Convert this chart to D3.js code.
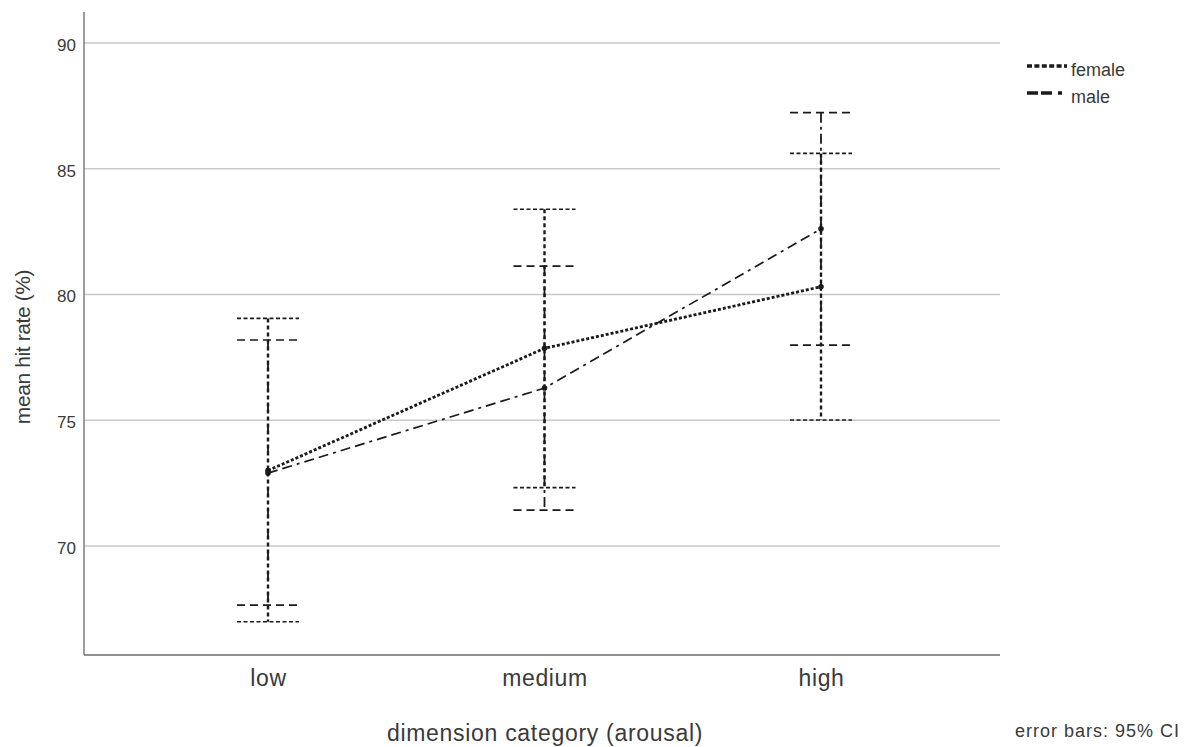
<!DOCTYPE html>
<html>
<head>
<meta charset="utf-8">
<script src="https://cdn.jsdelivr.net/npm/d3@7"></script>
<style>
  html, body { margin: 0; padding: 0; background: #fff; }
  svg { display: block; }
  text { font-family: "Liberation Sans", Arial, sans-serif; fill: #3a3a3a; }
</style>
</head>
<body>
<svg id="chart" width="1188" height="747"></svg>
<script>
// Mean hit rate by arousal category, split by gender, with 95% CI
const categories = ["low", "medium", "high"];
const yTicks = [70, 75, 80, 85, 90];

const femaleMean = [73.0, 77.86, 80.31];
const femaleLow  = [66.99, 72.32, 75.01];
const femaleHigh = [79.05, 83.39, 85.61];

const maleMean = [72.9, 76.28, 82.61];
const maleLow  = [67.65, 71.43, 77.99];
const maleHigh = [78.19, 81.13, 87.23];

const seriesNames = ["female", "male"];

const svg = d3.select("#chart");

const plotLeft = 84, plotRight = 1000, plotTop = 12, plotBottom = 655;

const x = d3.scalePoint()
  .domain(categories)
  .range([plotLeft + 184, plotRight - 179]);

const y = d3.scaleLinear()
  .domain([70, 90])
  .range([546, 43]);

// horizontal grid lines
svg.append("g")
  .selectAll("line")
  .data(yTicks)
  .join("line")
  .attr("x1", plotLeft).attr("x2", plotRight)
  .attr("y1", d => y(d)).attr("y2", d => y(d))
  .attr("stroke", "#c9c9c9")
  .attr("stroke-width", 1.5);

// y axis (labels only)
const yAxis = svg.append("g")
  .attr("transform", `translate(${plotLeft},0)`)
  .call(d3.axisLeft(y).tickValues(yTicks).tickSize(0).tickPadding(8).tickFormat(d3.format("d")));
yAxis.select(".domain").remove();
yAxis.selectAll("text")
  .attr("dy", "0.72em")
  .attr("y", -5)
  .style("font-size", "17px")
  .style("fill", "#3a3a3a");

// x axis (labels only)
const xAxis = svg.append("g")
  .attr("transform", `translate(0,${plotBottom})`)
  .call(d3.axisBottom(x).tickSize(0).tickPadding(15));
xAxis.select(".domain").remove();
xAxis.selectAll("text")
  .style("font-size", "23px")
  .style("letter-spacing", "0.6px")
  .style("fill", "#3a3a3a");

// frame lines
svg.append("line")
  .attr("x1", plotLeft).attr("x2", plotLeft)
  .attr("y1", plotTop).attr("y2", plotBottom)
  .attr("stroke", "#6a6a6a").attr("stroke-width", 1.3);
svg.append("line")
  .attr("x1", plotLeft).attr("x2", plotRight)
  .attr("y1", plotBottom).attr("y2", plotBottom)
  .attr("stroke", "#6a6a6a").attr("stroke-width", 1.3);

const styles = {
  female: { dash: "3,2", width: 2.8, capDash: "4,2.5", capWidth: 1.6, stemWidth: 2.4 },
  male:   { dash: "10,5,10,5,3,5", width: 1.7, capDash: "8,5", capWidth: 1.7, stemWidth: 1.8 }
};

const series = [
  { name: "female", mean: femaleMean, lo: femaleLow, hi: femaleHigh },
  { name: "male",   mean: maleMean,   lo: maleLow,   hi: maleHigh }
];

const ink = "#1a1a1a";
const capHalf = 31;

series.forEach(s => {
  const st = styles[s.name];
  const rows = categories.map((c, i) => ({ c, m: s.mean[i], lo: s.lo[i], hi: s.hi[i] }));
  const g = svg.append("g").attr("class", "series-" + s.name);

  // error bar stems
  g.selectAll(".stem").data(rows).join("line")
    .attr("x1", d => x(d.c)).attr("x2", d => x(d.c))
    .attr("y1", d => y(d.hi)).attr("y2", d => y(d.lo))
    .attr("stroke", ink).attr("stroke-width", st.stemWidth)
    .attr("stroke-dasharray", s.name === "female" ? "4,3" : "10,4,3,4");

  // caps
  ["hi", "lo"].forEach(k => {
    g.selectAll(".cap-" + k).data(rows).join("line")
      .attr("x1", d => x(d.c) - capHalf).attr("x2", d => x(d.c) + capHalf)
      .attr("y1", d => y(d[k])).attr("y2", d => y(d[k]))
      .attr("stroke", ink).attr("stroke-width", st.capWidth)
      .attr("stroke-dasharray", st.capDash);
  });

  // mean line
  g.append("path")
    .datum(rows)
    .attr("fill", "none")
    .attr("stroke", ink)
    .attr("stroke-width", st.width)
    .attr("stroke-dasharray", st.dash)
    .attr("d", d3.line().x(d => x(d.c)).y(d => y(d.m)));

  // mean markers
  g.selectAll(".pt").data(rows).join("circle")
    .attr("cx", d => x(d.c)).attr("cy", d => y(d.m))
    .attr("r", 2.8).attr("fill", ink);
});

// legend
const legend = svg.append("g").attr("transform", "translate(1027,0)");
seriesNames.forEach((n, i) => {
  const ly = 66 + i * 27;
  legend.append("line")
    .attr("x1", 0).attr("x2", 40).attr("y1", ly).attr("y2", ly)
    .attr("stroke", ink)
    .attr("stroke-width", 3.6)
    .attr("stroke-dasharray", n === "female" ? "5,2.4" : "11,3,11,6,4,5");
  legend.append("text")
    .attr("x", 44).attr("y", ly + 10)
    .style("font-size", "18px")
    .text(n);
});

// axis titles
svg.append("text")
  .attr("x", 545).attr("y", 741)
  .attr("text-anchor", "middle")
  .style("font-size", "23px")
  .style("letter-spacing", "0.7px")
  .text("dimension category (arousal)");

svg.append("text")
  .attr("transform", "translate(30,347) rotate(-90)")
  .attr("text-anchor", "middle")
  .style("font-size", "21px")
  .style("letter-spacing", "-0.4px")
  .text("mean hit rate (%)");

svg.append("text")
  .attr("x", 1180).attr("y", 737)
  .attr("text-anchor", "end")
  .style("font-size", "18px")
  .style("letter-spacing", "1px")
  .text("error bars: 95% CI");
</script>
</body>
</html>
